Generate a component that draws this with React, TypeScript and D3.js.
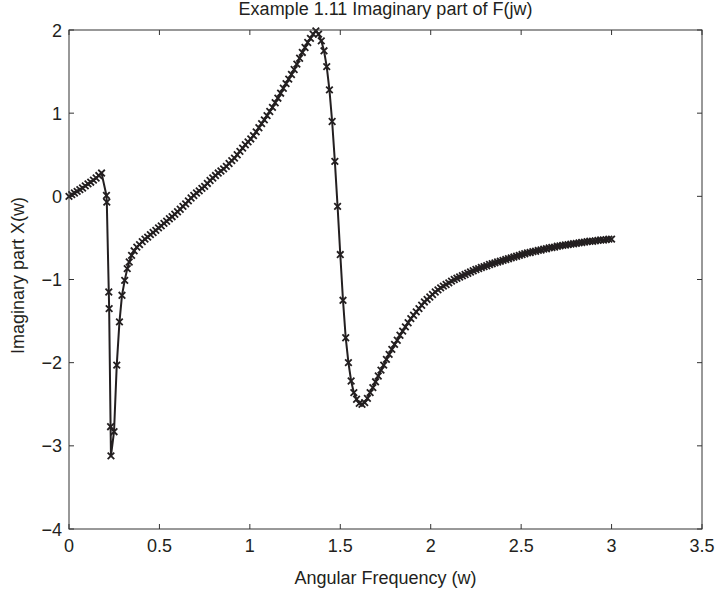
import React from "react";
import * as d3 from "d3";

// angular frequency (w) samples and the imaginary part
const freq = [
  0, 0.015, 0.03, 0.045, 0.06, 0.075, 0.09, 0.105, 0.12, 0.135,
  0.15, 0.165, 0.18, 0.207, 0.209, 0.22, 0.222, 0.23, 0.232, 0.249,
  0.264, 0.279, 0.293, 0.308, 0.322, 0.333, 0.346, 0.36, 0.375, 0.39,
  0.405, 0.42, 0.435, 0.45, 0.465, 0.48, 0.495, 0.51, 0.525, 0.54,
  0.555, 0.57, 0.585, 0.6, 0.615, 0.63, 0.645, 0.66, 0.675, 0.69,
  0.705, 0.72, 0.735, 0.75, 0.765, 0.78, 0.795, 0.81, 0.825, 0.84,
  0.855, 0.87, 0.885, 0.9, 0.915, 0.93, 0.945, 0.96, 0.975, 0.99,
  1.005, 1.02, 1.035, 1.05, 1.065, 1.08, 1.095, 1.11, 1.125, 1.14,
  1.155, 1.17, 1.185, 1.2, 1.215, 1.23, 1.245, 1.26, 1.275, 1.29,
  1.305, 1.32, 1.335, 1.35, 1.365, 1.38, 1.395, 1.41, 1.425, 1.44,
  1.455, 1.47, 1.485, 1.5, 1.515, 1.53, 1.545, 1.56, 1.575, 1.59,
  1.605, 1.62, 1.635, 1.65, 1.665, 1.68, 1.695, 1.71, 1.725, 1.74,
  1.755, 1.77, 1.785, 1.8, 1.815, 1.83, 1.845, 1.86, 1.875, 1.89,
  1.905, 1.92, 1.935, 1.95, 1.965, 1.98, 1.995, 2.01, 2.025, 2.04,
  2.055, 2.07, 2.085, 2.1, 2.115, 2.13, 2.145, 2.16, 2.175, 2.19,
  2.205, 2.22, 2.235, 2.25, 2.265, 2.28, 2.295, 2.31, 2.325, 2.34,
  2.355, 2.37, 2.385, 2.4, 2.415, 2.43, 2.445, 2.46, 2.475, 2.49,
  2.505, 2.52, 2.535, 2.55, 2.565, 2.58, 2.595, 2.61, 2.625, 2.64,
  2.655, 2.67, 2.685, 2.7, 2.715, 2.73, 2.745, 2.76, 2.775, 2.79,
  2.805, 2.82, 2.835, 2.85, 2.865, 2.88, 2.895, 2.91, 2.925, 2.94,
  2.955, 2.97, 2.985, 3.0,
];

const imagPart = [
  0, 0.02, 0.04, 0.06, 0.08, 0.1, 0.125, 0.15, 0.17, 0.195,
  0.22, 0.25, 0.28, 0.01, -0.07, -1.15, -1.35, -2.77, -3.12, -2.83,
  -2.03, -1.51, -1.19, -1.01, -0.87, -0.79, -0.71, -0.655, -0.61, -0.58,
  -0.545, -0.515, -0.49, -0.46, -0.435, -0.41, -0.38, -0.355, -0.325, -0.3,
  -0.27, -0.245, -0.215, -0.185, -0.155, -0.12, -0.09, -0.055, -0.02, 0.01,
  0.04, 0.065, 0.095, 0.12, 0.155, 0.19, 0.22, 0.25, 0.28, 0.305,
  0.33, 0.36, 0.395, 0.43, 0.46, 0.5, 0.54, 0.58, 0.62, 0.655,
  0.69, 0.73, 0.775, 0.825, 0.875, 0.92, 0.97, 1.02, 1.07, 1.125,
  1.18, 1.24, 1.3, 1.355, 1.41, 1.465, 1.525, 1.59, 1.66, 1.73,
  1.79, 1.85, 1.9, 1.95, 1.99, 1.95, 1.87, 1.75, 1.56, 1.28,
  0.9, 0.42, -0.12, -0.7, -1.25, -1.7, -2.0, -2.22, -2.36, -2.44,
  -2.49, -2.5, -2.48, -2.43, -2.36, -2.3, -2.23, -2.16, -2.09, -2.03,
  -1.96, -1.9, -1.84, -1.78, -1.73, -1.67, -1.62, -1.57, -1.52, -1.47,
  -1.43, -1.39, -1.35, -1.31, -1.27, -1.24, -1.21, -1.18, -1.15, -1.125,
  -1.1, -1.08, -1.06, -1.04, -1.02, -1.0, -0.985, -0.97, -0.955, -0.94,
  -0.925, -0.91, -0.895, -0.88, -0.87, -0.855, -0.845, -0.835, -0.82, -0.81,
  -0.8, -0.79, -0.78, -0.77, -0.76, -0.75, -0.74, -0.73, -0.72, -0.71,
  -0.7, -0.69, -0.68, -0.675, -0.665, -0.66, -0.65, -0.645, -0.635, -0.63,
  -0.62, -0.615, -0.61, -0.6, -0.595, -0.59, -0.585, -0.58, -0.575, -0.57,
  -0.565, -0.56, -0.555, -0.55, -0.545, -0.54, -0.54, -0.535, -0.53, -0.525,
  -0.525, -0.52, -0.515, -0.515,
];

const xTicks = [0, 0.5, 1, 1.5, 2, 2.5, 3, 3.5];
const yTicks = [-4, -3, -2, -1, 0, 1, 2];

const width = 719;
const height = 592;
const margin = { top: 30, right: 17, bottom: 63, left: 69 };
const ink = "#231f20";
const font = "'Liberation Sans', Arial, Helvetica, sans-serif";

const fmt = (v: number) => String(v).replace("-", "\u2212");

export default function App() {
  const x = d3.scaleLinear().domain([0, 3.5]).range([margin.left, width - margin.right]);
  const y = d3.scaleLinear().domain([-4, 2]).range([height - margin.bottom, margin.top]);

  const points = freq.map((w, i) => [w, imagPart[i]] as [number, number]);
  const line = d3
    .line<[number, number]>()
    .x((d) => x(d[0]))
    .y((d) => y(d[1]));

  const x0 = margin.left;
  const x1 = width - margin.right;
  const y0 = height - margin.bottom;
  const y1 = margin.top;
  const tick = 5;
  const m = 3.3;

  return (
    <svg
      width={width}
      height={height}
      style={{ position: "absolute", left: 0, top: 0, background: "#fff" }}
      fontFamily={font}
    >
      <rect x={0} y={0} width={width} height={height} fill="#fff" />

      {/* ticks, pointing inward on all four sides */}
      <g stroke="#333" strokeWidth={1}>
        {xTicks.map((t) => (
          <g key={"xt" + t}>
            <line x1={x(t)} x2={x(t)} y1={y0} y2={y0 - tick} />
            <line x1={x(t)} x2={x(t)} y1={y1} y2={y1 + tick} />
          </g>
        ))}
        {yTicks.map((t) => (
          <g key={"yt" + t}>
            <line x1={x0} x2={x0 + tick} y1={y(t)} y2={y(t)} />
            <line x1={x1} x2={x1 - tick} y1={y(t)} y2={y(t)} />
          </g>
        ))}
      </g>

      {/* curve with x markers */}
      <path d={line(points) || ""} fill="none" stroke={ink} strokeWidth={2} />
      <g stroke={ink} strokeWidth={1.8}>
        {points.map((d, i) => (
          <path
            key={i}
            transform={`translate(${x(d[0])},${y(d[1])})`}
            d={`M${-m},${-m}L${m},${m}M${-m},${m}L${m},${-m}`}
          />
        ))}
      </g>

      <rect
        x={x0}
        y={y1}
        width={x1 - x0}
        height={y0 - y1}
        fill="none"
        stroke="#333"
        strokeWidth={1}
      />

      <g fill={ink} fontSize={18}>
        {xTicks.map((t) => (
          <text key={"xl" + t} x={x(t)} y={552} textAnchor="middle">
            {fmt(t)}
          </text>
        ))}
        {yTicks.map((t) => (
          <text key={"yl" + t} x={x0 - 7} y={y(t) + 6.5} textAnchor="end">
            {fmt(t)}
          </text>
        ))}
        <text x={(x0 + x1) / 2} y={15} textAnchor="middle">
          Example 1.11 Imaginary part of F(jw)
        </text>
        <text x={(x0 + x1) / 2} y={584} textAnchor="middle">
          Angular Frequency (w)
        </text>
        <text transform={`translate(24,${(y0 + y1) / 2 - 4}) rotate(-90)`} textAnchor="middle">
          Imaginary part X(w)
        </text>
      </g>
    </svg>
  );
}
